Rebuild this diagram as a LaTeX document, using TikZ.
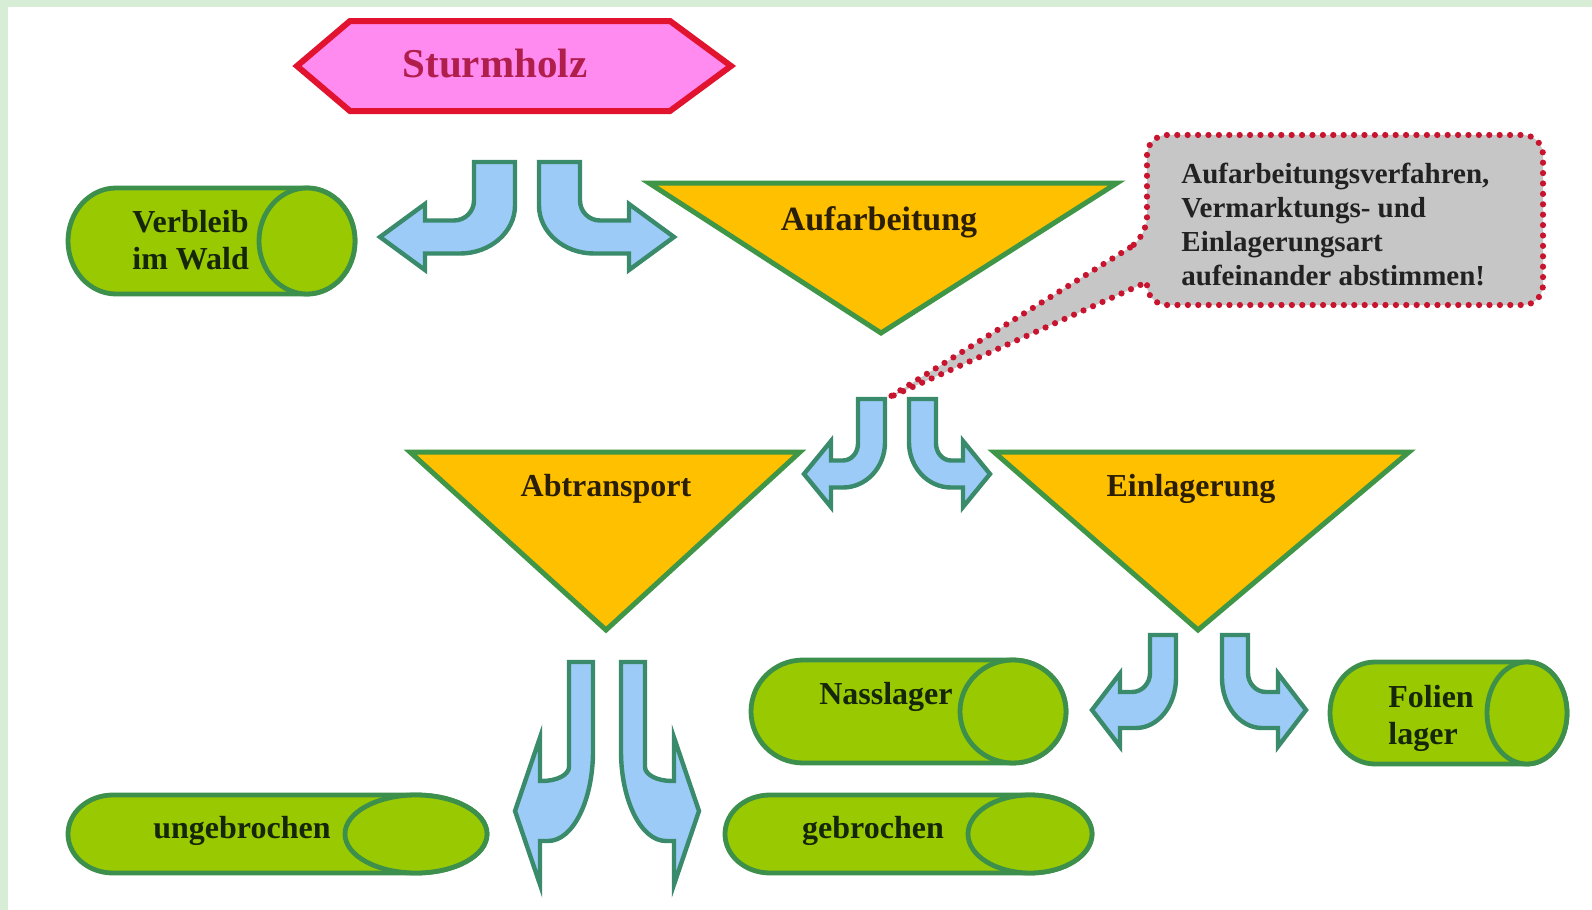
\documentclass[tikz,border=0pt]{standalone}
\usepackage{fontspec}
\setmainfont{Liberation Serif}
\definecolor{frameg}{HTML}{D8EDD5}
\definecolor{hexfill}{HTML}{FF8AF0}
\definecolor{hexline}{HTML}{E2132F}
\definecolor{hextext}{HTML}{B01E4C}
\definecolor{cylfill}{HTML}{99C900}
\definecolor{cylline}{HTML}{3D8F4C}
\definecolor{trifill}{HTML}{FFC000}
\definecolor{triline}{HTML}{3F9646}
\definecolor{arrfill}{HTML}{9CCBF7}
\definecolor{arrline}{HTML}{3A8A6C}
\definecolor{callfill}{HTML}{C6C6C6}
\definecolor{callline}{HTML}{C8142E}
\definecolor{cyltext}{HTML}{16260A}
\definecolor{tritext}{HTML}{2A1E05}
\definecolor{calltext}{HTML}{222222}

\tikzset{
  hexa/.style={fill=hexfill, draw=hexline, line width=3pt, line join=miter},
  cylshape/.style={fill=cylfill, draw=cylline, line width=2.4pt},
  tri/.style={fill=trifill, draw=triline, line width=2.5pt, line join=miter},
  jarrow/.style={fill=arrfill, draw=arrline, line width=2.2pt, line join=miter},
  callout/.style={fill=callfill, draw=callline, line width=3.1pt, dash pattern=on 0pt off 5.2pt, line cap=round},
  lbl/.style={font=\bfseries\fontsize{16}{18.5}\selectfont, text=cyltext, inner sep=0pt, align=left},
  trilbl/.style={lbl, text=tritext},
}

\pgfkeys{/ja/.is family, /ja/.cd,
  ax/.initial=0, top/.initial=0, g/.initial=10, L/.initial=40, m/.initial=70, h/.initial=15,
  B/.initial=70, T/.initial=100, W/.initial=30, rix/.initial=15, riy/.initial=15,
  rox/.initial=40, roy/.initial=40}
\newcommand\jv[1]{\pgfkeysvalueof{/ja/#1}}
\newcommand\jpair[1]{%
  \pgfkeys{/ja/.cd,#1}%
  \pgfmathsetmacro\jsa{\jv{m}-\jv{h}}%
  \pgfmathsetmacro\jsb{\jv{m}+\jv{h}}%
  \foreach \jsign in {1,-1}{%
    \begin{scope}[shift={(\jv{ax},\jv{top})},xscale=\jsign]
      \draw[jarrow] ({-\jv{g}},0) -- ({-\jv{g}},{\jsb-\jv{roy}})
        .. controls ({-\jv{g}},{\jsb-0.448*\jv{roy}}) and ({-\jv{g}-0.448*\jv{rox}},\jsb) .. ({-\jv{g}-\jv{rox}},\jsb)
        -- ({-\jv{B}},\jsb) -- ({-\jv{B}},{\jv{m}+\jv{W}}) -- ({-\jv{T}},\jv{m}) -- ({-\jv{B}},{\jv{m}-\jv{W}})
        -- ({-\jv{B}},\jsa) -- ({-\jv{L}-\jv{rix}},\jsa)
        .. controls ({-\jv{L}-0.448*\jv{rix}},\jsa) and ({-\jv{L}},{\jsa-0.448*\jv{riy}}) .. ({-\jv{L}},{\jsa-\jv{riy}})
        -- ({-\jv{L}},0) -- cycle;
    \end{scope}}%
}
% cylinder: xl, xr, yt, yb, rx left end, rx cap
\newcommand\cylbody[6]{%
  \pgfmathsetmacro\cyry{(#4-#3)/2}%
  \pgfmathsetmacro\cycy{(#3+#4)/2}%
  \draw[cylshape] ({#1+#5},#3) -- ({#2-#6},#3)
    arc[start angle=-90,end angle=90,x radius=#6,y radius=\cyry]
    -- ({#1+#5},#4)
    arc[start angle=90,end angle=270,x radius=#5,y radius=\cyry] -- cycle;
  \draw[cylshape] ({#2-#6},\cycy) ellipse[x radius=#6, y radius=\cyry];
}

\begin{document}
\begin{tikzpicture}[x=0.5pt,y=-0.5pt]
\useasboundingbox (0,0) rectangle (1592,910);
\fill[white] (0,0) rectangle (1592,910);
\fill[frameg] (0,0) rectangle (1592,7);
\fill[frameg] (0,0) rectangle (8,910);

% Sturmholz
\draw[hexa] (297,66) -- (350,21) -- (670,21) -- (731,66) -- (670,111) -- (350,111) -- cycle;
\node[lbl, text=hextext, font=\bfseries\fontsize{20.5}{24}\selectfont] (sturm) at (495,64) {Sturmholz};

% arrows
\jpair{ax=527,top=162,g=12,L=53,m=75,h=16.5,B=102,T=147,W=33,rix=20,riy=20,rox=55,roy=48}
\jpair{ax=897,top=399,g=12,L=39,m=75,h=13.5,B=66,T=93,W=33,rix=15,riy=17,rox=42,roy=45}
\jpair{ax=607,top=662,g=14,L=38,m=149,h=30,B=67,T=92,W=73.5,rix=27,riy=14,rox=45,roy=90}
\jpair{ax=1199,top=635,g=23,L=49,m=75,h=18,B=79,T=107,W=36.5,rix=18,riy=19,rox=40,roy=50}

% Verbleib im Wald
\cylbody{68}{355}{188}{294}{48}{48}
\node[lbl, anchor=west] (verbleib) at (132,240) {Verbleib\\im Wald};

% Aufarbeitung
\draw[tri] (649,183) -- (1117,183) -- (881,333) -- cycle;
\node[trilbl, font=\bfseries\fontsize{17}{20}\selectfont] (aufarb) at (879,222) {Aufarbeitung};

% callout
\draw[callout] (1147,237) -- (888,398) -- (1147,282) [rounded corners=10pt] -- (1147,305) -- (1543,305) -- (1543,135) -- (1147,135) -- cycle;
\node[lbl, text=calltext, anchor=west, font=\bfseries\fontsize{14.5}{17}\selectfont] (note) at (1181,224)
  {Aufarbeitungsverfahren,\\Vermarktungs- und\\Einlagerungsart\\aufeinander abstimmen!};

% Abtransport / Einlagerung
\draw[tri] (410,452) -- (800,452) -- (606,630) -- cycle;
\node[trilbl] (abtr) at (606,489) {Abtransport};
\draw[tri] (994,452) -- (1409,452) -- (1198,630) -- cycle;
\node[trilbl] (einl) at (1191,489) {Einlagerung};

% storage cylinders
\cylbody{751}{1066}{660}{763}{52}{53}
\node[lbl] (nass) at (886,697) {Nasslager};
\cylbody{1330}{1567}{662}{764}{45}{40}
\node[lbl, anchor=west] (folie) at (1388,718) {Folien\\lager};

% transport cylinders
\cylbody{68}{487}{795}{873}{45}{71}
\node[lbl] (unge) at (242,831) {ungebrochen};
\cylbody{725}{1092}{795}{873}{45}{62}
\node[lbl] (gebr) at (873,831) {gebrochen};
\end{tikzpicture}
\end{document}
